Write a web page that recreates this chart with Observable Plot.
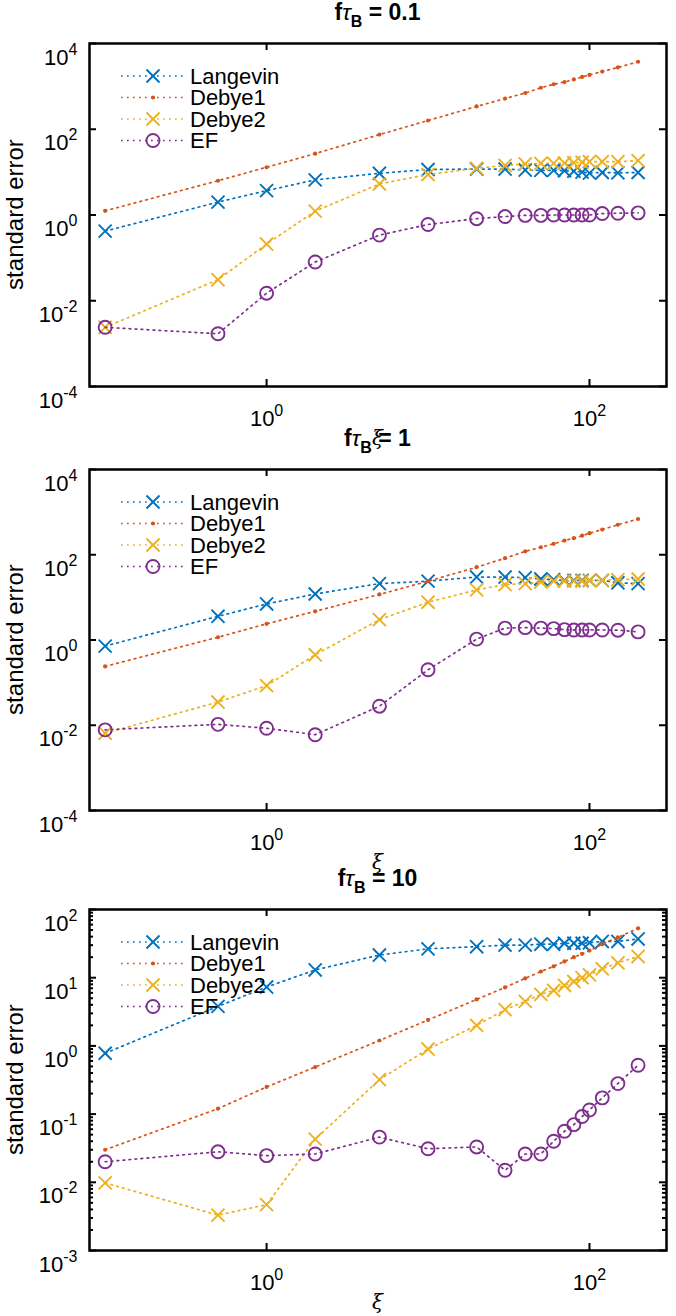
<!DOCTYPE html>
<html><head><meta charset="utf-8">
<script src="https://cdn.jsdelivr.net/npm/d3@7"></script>
<script src="https://cdn.jsdelivr.net/npm/@observablehq/plot@0.6"></script>
<style>
body{margin:0;background:#fff;}
#root{position:relative;width:676px;height:1316px;overflow:hidden;background:#fff;}
.panel{position:absolute;left:0;}
.panel svg{overflow:visible;}
</style></head><body><div id="root"></div>
<script>
// ---------- data ----------
const xi = [0.1, 0.5, 1, 2, 5, 10, 20, 30, 40, 50, 60, 70, 80, 90, 100, 120, 150, 200];
const seriesNames = ["Langevin", "Debye1", "Debye2", "EF"];
const seriesColors = ["#0072BD", "#D95319", "#EDB120", "#7E2F8E"];
const seriesMarkers = ["times", "point", "times", "circle"];
const titleValues = ["0.1", "1", "10"];

// panel 1: f tau_B = 0.1
const langevinA = [0.42, 2.0, 3.7, 6.6, 9.4, 11.5, 11.8, 11.8, 11.2, 11, 11, 10.8, 10.5, 10, 9.5, 9.8, 9.6, 9.8];
const debye1A = [1.25, 6.3, 13, 27, 75, 160, 340, 520, 700, 930, 1120, 1260, 1450, 1660, 1850, 2220, 2760, 3750];
const debye2A = [0.0024, 0.031, 0.21, 1.23, 5.3, 8.8, 12.3, 14.3, 15.5, 16, 16, 16.3, 16.5, 17, 17.5, 17.5, 17.5, 18.5];
const efA = [0.0024, 0.0017, 0.015, 0.08, 0.34, 0.6, 0.82, 0.92, 0.98, 0.98, 1.0, 1.0, 1.0, 1.0, 1.0, 1.08, 1.1, 1.12];

// panel 2: f tau_B = 1
const langevinB = [0.72, 3.6, 7.0, 12, 21, 24, 30, 30, 29, 27, 26, 25, 25, 25, 25, 25, 22, 21];
const debye1B = [0.24, 1.16, 2.4, 4.7, 11.7, 24, 51, 83, 120, 150, 180, 215, 245, 280, 320, 390, 505, 690];
const debye2B = [0.0065, 0.035, 0.085, 0.45, 3.0, 7.7, 15, 20, 21, 23, 24, 24, 24, 24, 25, 25, 26, 27];
const efB = [0.0078, 0.0105, 0.0085, 0.006, 0.028, 0.2, 1.05, 1.9, 1.95, 1.9, 1.85, 1.75, 1.72, 1.72, 1.72, 1.72, 1.7, 1.55];

// panel 3: f tau_B = 10
const langevinC = [0.78, 3.8, 7.3, 13, 21.5, 26.5, 28.5, 30, 30, 31, 31, 32, 32, 32, 32.5, 34, 34, 37];
const debye1C = [0.030, 0.12, 0.25, 0.49, 1.2, 2.4, 4.8, 7.2, 9.8, 12.3, 14.7, 17.3, 20, 22.4, 25, 31, 39, 53];
const debye2C = [0.0098, 0.0033, 0.0047, 0.043, 0.32, 0.9, 2.0, 3.4, 4.5, 5.7, 6.5, 7.7, 8.8, 10, 11, 13.5, 16.5, 20.5];
const efC = [0.020, 0.028, 0.0246, 0.026, 0.046, 0.031, 0.033, 0.015, 0.026, 0.026, 0.040, 0.056, 0.070, 0.092, 0.115, 0.173, 0.28, 0.52];

const xDomain = [0.08, 300];
const xTicks = [1, 100];
const yDomainAB = [1e-4, 1e4];
const yTicksAB = [1e-4, 1e-2, 1, 1e2, 1e4];
const yDomainC = [1e-3, 1e2];
const yTicksC = [1e-3, 1e-2, 1e-1, 1, 1e1, 1e2];

// ---------- layout ----------
const W = 676, ML = 89, MR = 10;
const FONT = "'Liberation Sans', Arial, Helvetica, sans-serif";
const TICK_FS = 22, EXP_FS = 16;
const panels = [
  {top: 0,   frameTop: 43,  frameBottom: 386,  series: [langevinA, debye1A, debye2A, efA], yDomain: yDomainAB, yTicks: yTicksAB, minor: false},
  {top: 430, frameTop: 469, frameBottom: 810,  series: [langevinB, debye1B, debye2B, efB], yDomain: yDomainAB, yTicks: yTicksAB, minor: false},
  {top: 866, frameTop: 909, frameBottom: 1250, series: [langevinC, debye1C, debye2C, efC], yDomain: yDomainC, yTicks: yTicksC, minor: true}
];
const H = 450;
const root = document.getElementById("root");

function expFormat(d) { return String(Math.round(Math.log10(d))); }

panels.forEach((p, pi) => {
  const mt = p.frameTop - p.top;
  const mb = p.top + H - p.frameBottom;
  const fw = W - ML - MR;
  const fh = p.frameBottom - p.frameTop;
  const marks = [];
  p.series.forEach((ys, k) => {
    const data = xi.map((x, i) => ({x, y: ys[i]}));
    marks.push(Plot.line(data, {x: "x", y: "y", stroke: seriesColors[k], strokeWidth: 1.7, strokeDasharray: "1.7 4.3"}));
    if (seriesMarkers[k] === "point") {
      marks.push(Plot.dot(data, {x: "x", y: "y", r: 2.1, fill: seriesColors[k], stroke: "none"}));
    } else {
      marks.push(Plot.dot(data, {x: "x", y: "y", symbol: seriesMarkers[k], r: seriesMarkers[k] === "circle" ? 6.5 : 6, stroke: seriesColors[k], strokeWidth: 1.9, fill: "none"}));
    }
  });
  // inward ticks (mirrored box)
  const minorTicks = p.minor ? d3.scaleLog().domain(p.yDomain).ticks().filter(v => !p.yTicks.some(t => Math.abs(t - v) / t < 1e-9)) : [];
  marks.push(Plot.tickY(p.yTicks, {y: d => d, insetRight: fw - 7, stroke: "black", strokeWidth: 2}));
  marks.push(Plot.tickY(p.yTicks, {y: d => d, insetLeft: fw - 7, stroke: "black", strokeWidth: 2}));
  if (minorTicks.length) {
    marks.push(Plot.tickY(minorTicks, {y: d => d, insetRight: fw - 4, stroke: "black", strokeWidth: 2}));
    marks.push(Plot.tickY(minorTicks, {y: d => d, insetLeft: fw - 4, stroke: "black", strokeWidth: 2}));
  }
  marks.push(Plot.tickX(xTicks, {x: d => d, insetTop: fh - 7, stroke: "black", strokeWidth: 2}));
  marks.push(Plot.tickX(xTicks, {x: d => d, insetBottom: fh - 7, stroke: "black", strokeWidth: 2}));
  marks.push(Plot.axisX({ticks: xTicks, tickSize: 0, tickPadding: 24, tickFormat: expFormat, label: null, fontSize: TICK_FS}));
  marks.push(Plot.axisY({ticks: p.yTicks, tickSize: 0, tickPadding: 12, tickFormat: expFormat, label: null, fontSize: TICK_FS}));
  marks.push(Plot.frame({stroke: "black", strokeWidth: 2.5}));

  const chart = Plot.plot({
    width: W, height: H,
    marginLeft: ML, marginRight: MR, marginTop: mt, marginBottom: mb,
    x: {type: "log", domain: xDomain, label: null},
    y: {type: "log", domain: p.yDomain, label: null},
    style: {background: "transparent", overflow: "visible", fontFamily: FONT, fontSize: TICK_FS + "px", color: "black"},
    marks
  });
  const div = document.createElement("div");
  div.className = "panel";
  div.style.top = p.top + "px";
  div.appendChild(chart);
  root.appendChild(div);

  const svg = d3.select(chart);
  // superscript tick labels: 10^e
  svg.selectAll('g[aria-label$="tick label"] text').each(function () {
    const e = this.textContent;
    const t = d3.select(this);
    t.text("").attr("fill", "black");
    t.append("tspan").text("10");
    t.append("tspan").attr("dy", -10).attr("font-size", EXP_FS).text(e);
  });
  svg.selectAll('g[aria-label="y-axis tick label"] text').attr("dy", 14);

  const fy = (p.frameTop - p.top);
  const fby = (p.frameBottom - p.top);
  const cx = ML + fw / 2;
  // title
  const title = svg.append("text").attr("x", cx).attr("y", fy - 23).attr("text-anchor", "middle")
    .attr("font-family", FONT).attr("font-size", 23).attr("font-weight", "bold").style("white-space", "pre");
  title.append("tspan").text("f");
  title.append("tspan").attr("font-style", "italic").attr("font-weight", "normal").text("τ");
  title.append("tspan").attr("dy", 7).attr("font-size", 16).text("B");
  title.append("tspan").attr("dy", -7).text(" = " + titleValues[pi]);
  // x label
  svg.append("text").attr("x", cx).attr("y", fby + 52).attr("text-anchor", "middle").attr("dy", "0.35em")
    .attr("font-family", "'DejaVu Serif', serif").attr("font-style", "italic").attr("font-size", 20).text("ξ");
  // y label
  svg.append("text").attr("transform", `translate(15,${(fy + fby) / 2}) rotate(-90)`).attr("text-anchor", "middle")
    .attr("dy", "0.35em").attr("font-family", FONT).attr("font-size", 24).text("standard error");
  // legend
  const lg = svg.append("g").attr("text-anchor", "start");
  seriesNames.forEach((name, k) => {
    const yy = fy + 33 + k * 21.5;
    lg.append("line").attr("x1", 121).attr("x2", 183).attr("y1", yy).attr("y2", yy)
      .attr("stroke", seriesColors[k]).attr("stroke-width", 1.7).attr("stroke-dasharray", "1.7 4.3");
    if (seriesMarkers[k] === "point") {
      lg.append("circle").attr("cx", 153).attr("cy", yy).attr("r", 2.1).attr("fill", seriesColors[k]);
    } else {
      const r = seriesMarkers[k] === "circle" ? 6.5 : 6;
      const sym = seriesMarkers[k] === "circle" ? d3.symbolCircle : d3.symbolTimes;
      lg.append("path").attr("transform", `translate(153,${yy})`).attr("d", d3.symbol(sym, Math.PI * r * r)())
        .attr("fill", "none").attr("stroke", seriesColors[k]).attr("stroke-width", 1.9);
    }
    lg.append("text").attr("x", 190).attr("y", yy).attr("dy", "0.35em").attr("text-anchor", "start")
      .attr("font-family", FONT).attr("font-size", 22).text(name);
  });
});
</script></body></html>
